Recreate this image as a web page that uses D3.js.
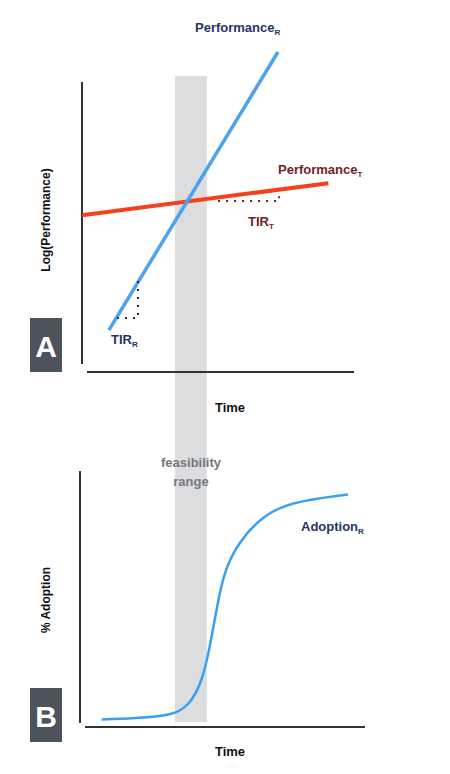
<!DOCTYPE html>
<html><head><meta charset="utf-8">
<script src="https://cdn.jsdelivr.net/npm/d3@7"></script>
<style>body{margin:0;background:#fff}text{font-family:"Liberation Sans",Arial,sans-serif;font-weight:bold}</style>
</head><body>
<script>
// data in abstract units (time 0-100, performance 0-100, adoption 0-100)
var feasibility = [33.2, 44.6];
var perfR = [[9.6, 13.1], [70, 100]];
var perfT = [[0, 49], [88, 59]];
var tirR = [[12.5, 16.9], [20, 16.9], [20, 28.8]];
var tirT = [[48.6, 53.4], [70.4, 53.4], [70.4, 56.9]];
var adoptionTime = [7, 31, 38, 43, 46, 48.5, 51, 56, 64, 74, 95];
var adoptionValue = [1, 2, 6, 16, 32, 48, 61, 72, 82, 88, 91];

var svg = d3.select('body').append('svg').attr('width', 450).attr('height', 774);

var x = d3.scaleLinear().domain([0, 100]).range([82, 362]);
var yA = d3.scaleLinear().domain([0, 100]).range([372, 52]);
var yB = d3.scaleLinear().domain([0, 100]).range([722, 472]);
var line = function(y) { return d3.line().x(function(d) {return x(d[0]);}).y(function(d) {return y(d[1]);}); };

// feasibility band across both panels
svg.append('rect')
  .attr('x', x(feasibility[0])).attr('width', x(feasibility[1]) - x(feasibility[0]))
  .attr('y', 76).attr('height', 646).attr('fill', '#dcdddf');

// panel A axes
svg.append('line').attr('x1', 82).attr('x2', 82).attr('y1', 82).attr('y2', 364).attr('stroke', '#333').attr('stroke-width', 2);
svg.append('line').attr('x1', 87).attr('x2', 354).attr('y1', 372).attr('y2', 372).attr('stroke', '#333').attr('stroke-width', 2);

svg.append('path').attr('d', line(yA)(perfT)).attr('stroke', '#f5401e').attr('stroke-width', 4).attr('fill', 'none');
svg.append('path').attr('d', line(yA)(perfR)).attr('stroke', '#4aa3ee').attr('stroke-width', 3.5).attr('fill', 'none');
svg.append('path').attr('d', line(yA)(tirR)).attr('stroke', '#1d2d55').attr('stroke-width', 2).attr('stroke-dasharray', '2 6').attr('fill', 'none');
svg.append('path').attr('d', line(yA)(tirT)).attr('stroke', '#6b2222').attr('stroke-width', 2).attr('stroke-dasharray', '2 6').attr('fill', 'none');

function label(tx, ty, main, sub, color, size) {
  var t = svg.append('text').attr('x', tx).attr('y', ty).attr('fill', color).attr('font-size', size);
  t.append('tspan').text(main);
  if (sub) t.append('tspan').attr('font-size', size * 0.62).attr('dy', 3).text(sub);
  return t;
}
label(195, 32, 'Performance', 'R', '#1f3566', 13);
label(278, 174, 'Performance', 'T', '#6e2424', 13);
label(248, 226, 'TIR', 'T', '#6e2424', 13);
label(111, 344, 'TIR', 'R', '#1f3566', 13);
label(301, 531, 'Adoption', 'R', '#1f3566', 13);

svg.append('text').attr('transform', 'translate(50,220) rotate(-90)').attr('text-anchor', 'middle').attr('font-size', 12).attr('fill', '#111').text('Log(Performance)');
svg.append('text').attr('transform', 'translate(50,600) rotate(-90)').attr('text-anchor', 'middle').attr('font-size', 12).attr('fill', '#111').text('% Adoption');
svg.append('text').attr('x', 230).attr('y', 412).attr('text-anchor', 'middle').attr('font-size', 13).attr('fill', '#111').text('Time');
svg.append('text').attr('x', 230).attr('y', 756).attr('text-anchor', 'middle').attr('font-size', 13).attr('fill', '#111').text('Time');

[['A', 318], ['B', 688]].forEach(function(b) {
  svg.append('rect').attr('x', 30).attr('y', b[1]).attr('width', 32).attr('height', 54).attr('fill', '#4d535c');
  svg.append('text').attr('x', 46).attr('y', b[1] + 39).attr('text-anchor', 'middle').attr('font-size', 30)
    .attr('font-weight', 'normal').attr('fill', '#fff').text(b[0]);
});

// panel B
svg.append('text').attr('x', 191).attr('y', 467).attr('text-anchor', 'middle').attr('font-size', 13).attr('fill', '#74777c').text('feasibility');
svg.append('text').attr('x', 191).attr('y', 486).attr('text-anchor', 'middle').attr('font-size', 13).attr('fill', '#74777c').text('range');
svg.append('line').attr('x1', 80).attr('x2', 80).attr('y1', 471).attr('y2', 723).attr('stroke', '#333').attr('stroke-width', 2);
svg.append('line').attr('x1', 85).attr('x2', 365).attr('y1', 727).attr('y2', 727).attr('stroke', '#333').attr('stroke-width', 2);

var adoption = adoptionTime.map(function(t, i) {return [t, adoptionValue[i]];});
svg.append('path').attr('d', line(yB).curve(d3.curveBasis)(adoption))
  .attr('stroke', '#3aa0f0').attr('stroke-width', 2.5).attr('fill', 'none');
</script>
</body></html>
